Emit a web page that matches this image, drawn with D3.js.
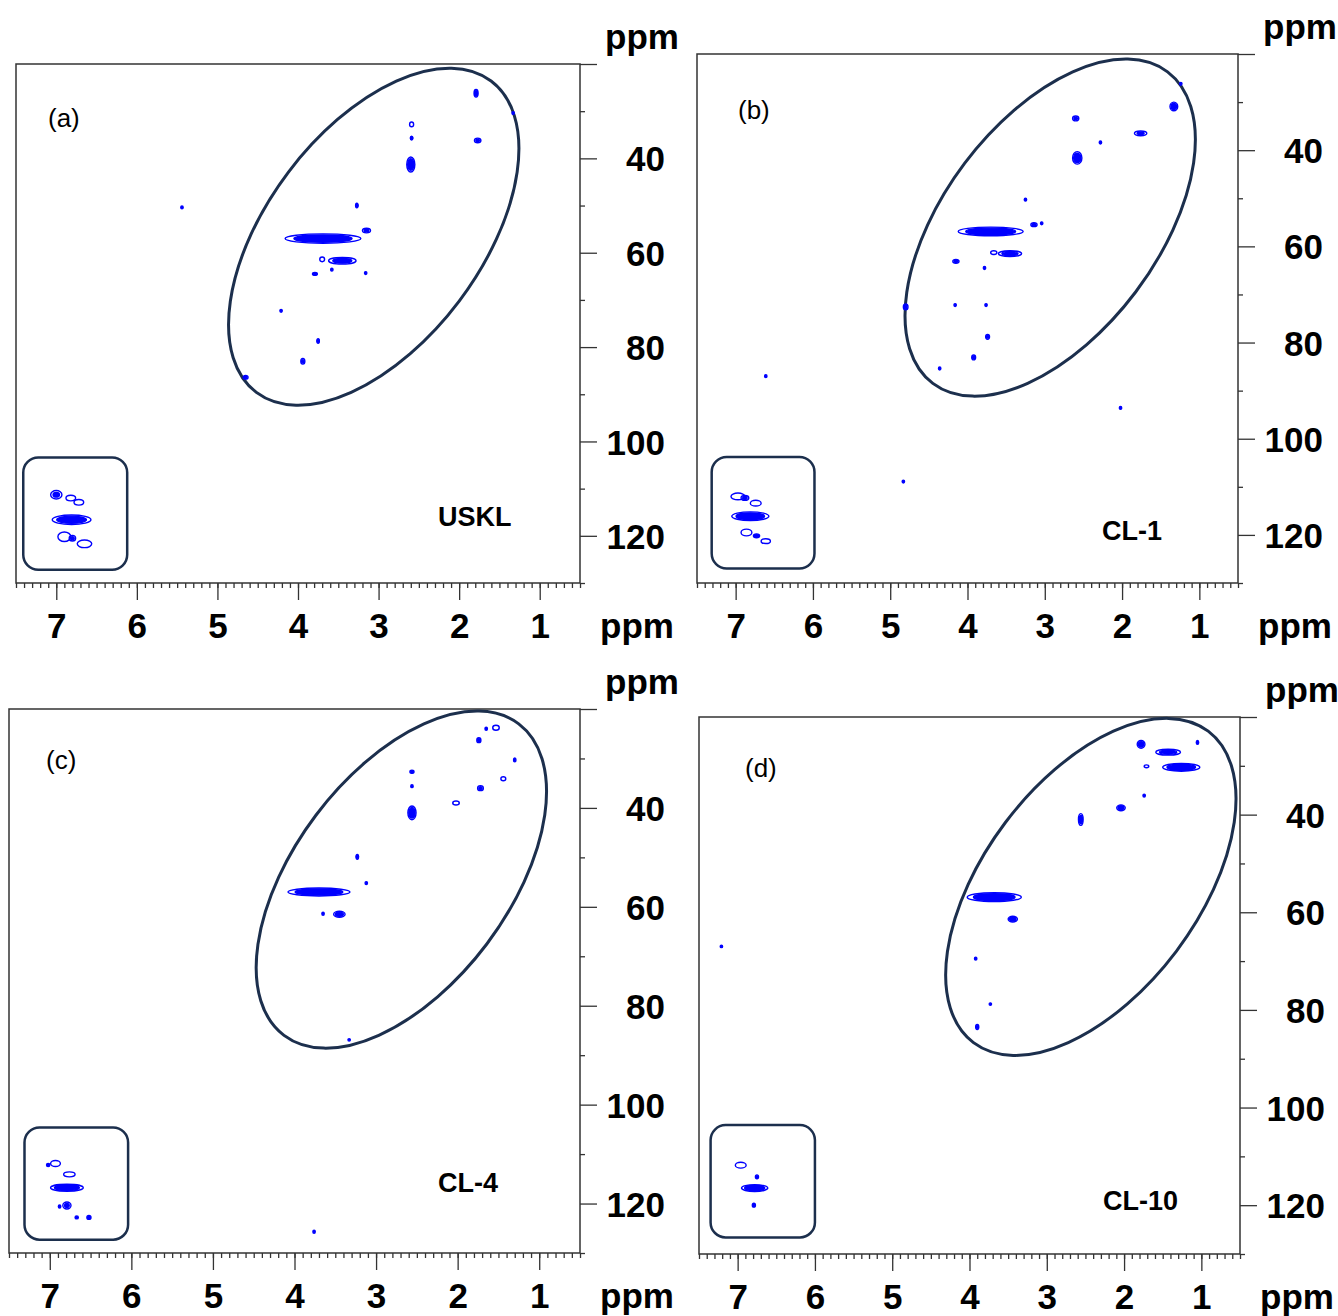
<!DOCTYPE html>
<html>
<head>
<meta charset="utf-8">
<script src="https://cdn.jsdelivr.net/npm/d3@7/dist/d3.min.js"></script>
<style>
  body { margin: 0; background: #fff; }
  text { font-family: "Liberation Sans", Arial, sans-serif; }
</style>
</head>
<body>
<div id="chart"></div>
<script>
"use strict";

// HSQC spectra, 4 samples

const panelLetters = ["(a)", "(b)", "(c)", "(d)"];
const sampleNames = ["USKL", "CL-1", "CL-4", "CL-10"];
const hTicks = [7, 6, 5, 4, 3, 2, 1];
const cTicks = [20, 40, 60, 80, 100, 120];
const cMinorTicks = [30, 50, 70, 90, 110, 130];
const hDomain = [7.5, 0.5];
const cDomain = [20, 130];

// peaks: [1H ppm, 13C ppm, half width 1H, half width 13C, contour levels (0 = open ring)]
const peaksA = [
  [3.69, 57.0, 0.47, 1.0, 4], [3.45, 61.7, 0.17, 0.7, 3], [3.70, 61.4, 0.03, 0.5, 0],
  [3.15, 55.3, 0.05, 0.5, 2], [3.27, 50.0, 0.012, 0.5, 2], [3.79, 64.5, 0.03, 0.3, 1],
  [3.58, 63.6, 0.012, 0.3, 1], [3.16, 64.3, 0.012, 0.3, 1], [4.21, 72.3, 0.015, 0.3, 1],
  [3.75, 78.7, 0.015, 0.5, 2], [3.94, 83.0, 0.025, 0.6, 2], [4.65, 86.4, 0.03, 0.4, 2],
  [5.44, 50.4, 0.015, 0.3, 1], [1.79, 26.2, 0.025, 0.8, 3], [2.59, 32.8, 0.025, 0.5, 0],
  [2.59, 35.7, 0.012, 0.4, 2], [2.60, 41.3, 0.05, 1.6, 4], [1.77, 36.2, 0.04, 0.5, 2],
  [1.33, 30.4, 0.01, 0.3, 1],
  [7.00, 111.3, 0.07, 0.9, 2], [6.82, 112.0, 0.06, 0.6, 0], [6.72, 112.9, 0.06, 0.6, 0],
  [6.81, 116.6, 0.24, 1.0, 4], [6.90, 120.2, 0.08, 1.0, 0], [6.65, 121.7, 0.09, 0.8, 0],
  [6.80, 120.5, 0.04, 0.6, 2]
];
const peaksB = [
  [1.33, 30.9, 0.05, 0.9, 3], [2.60, 33.4, 0.04, 0.5, 2], [1.76, 36.5, 0.08, 0.5, 2],
  [2.28, 38.4, 0.015, 0.3, 1], [2.58, 41.6, 0.06, 1.3, 4], [3.25, 50.3, 0.015, 0.3, 1],
  [3.70, 56.9, 0.42, 0.9, 4], [3.14, 55.5, 0.04, 0.4, 2], [3.04, 55.2, 0.01, 0.3, 1],
  [3.45, 61.5, 0.15, 0.6, 3], [3.66, 61.3, 0.04, 0.4, 0], [4.15, 63.1, 0.04, 0.4, 2],
  [3.78, 64.5, 0.012, 0.3, 1], [4.80, 72.6, 0.03, 0.6, 2], [4.16, 72.2, 0.01, 0.3, 1],
  [3.76, 72.2, 0.01, 0.3, 1], [3.74, 78.8, 0.025, 0.5, 2], [3.92, 83.1, 0.025, 0.5, 2],
  [4.36, 85.4, 0.012, 0.3, 1], [1.24, 26.2, 0.01, 0.3, 1], [6.61, 87.0, 0.012, 0.3, 1],
  [2.02, 93.6, 0.012, 0.3, 1], [4.83, 108.9, 0.012, 0.3, 1],
  [6.97, 112.0, 0.09, 0.7, 0], [6.88, 112.3, 0.05, 0.5, 2], [6.74, 113.4, 0.07, 0.6, 0],
  [6.81, 116.1, 0.24, 0.9, 4], [6.86, 119.5, 0.07, 0.7, 0], [6.73, 120.2, 0.04, 0.4, 1],
  [6.61, 121.3, 0.06, 0.5, 0]
];
const peaksC = [
  [1.53, 23.8, 0.04, 0.5, 0], [1.65, 24.0, 0.015, 0.3, 1], [1.74, 26.3, 0.025, 0.5, 2],
  [1.30, 30.3, 0.015, 0.4, 1], [2.56, 32.7, 0.025, 0.3, 2], [2.56, 35.6, 0.012, 0.3, 1],
  [1.44, 34.1, 0.03, 0.4, 0], [1.72, 36.0, 0.035, 0.5, 2], [2.02, 39.0, 0.04, 0.4, 0],
  [2.56, 41.0, 0.05, 1.4, 4], [3.23, 49.9, 0.012, 0.5, 2], [3.12, 55.2, 0.012, 0.3, 1],
  [3.70, 57.0, 0.38, 0.8, 4], [3.45, 61.5, 0.07, 0.6, 3], [3.65, 61.4, 0.012, 0.3, 1],
  [3.33, 86.9, 0.01, 0.2, 1], [3.76, 125.7, 0.01, 0.3, 1],
  [6.93, 111.9, 0.06, 0.6, 0], [7.02, 112.2, 0.02, 0.3, 1], [6.76, 114.1, 0.07, 0.5, 0],
  [6.79, 116.8, 0.2, 0.7, 4], [6.79, 120.4, 0.05, 0.7, 2], [6.88, 120.6, 0.015, 0.3, 1],
  [6.67, 122.8, 0.02, 0.3, 1], [6.52, 122.8, 0.025, 0.4, 1]
];
const peaksD = [
  [1.78, 25.6, 0.05, 0.8, 3], [1.43, 27.2, 0.16, 0.6, 3], [1.05, 25.2, 0.015, 0.4, 1],
  [1.71, 30.1, 0.03, 0.3, 0], [1.26, 30.3, 0.24, 0.8, 4], [1.74, 36.1, 0.012, 0.3, 1],
  [2.04, 38.6, 0.055, 0.6, 3], [2.56, 41.0, 0.03, 1.2, 3], [3.68, 56.9, 0.35, 0.9, 4],
  [3.44, 61.4, 0.06, 0.6, 3], [3.92, 69.5, 0.012, 0.3, 1], [3.73, 78.8, 0.01, 0.2, 1],
  [3.90, 83.5, 0.02, 0.5, 2], [7.21, 67.0, 0.01, 0.2, 1],
  [6.96, 111.8, 0.07, 0.6, 0], [6.75, 114.2, 0.02, 0.4, 1], [6.78, 116.5, 0.17, 0.7, 4],
  [6.79, 120.0, 0.02, 0.4, 1]
];

// aliphatic region marked with an ellipse, aromatic region with a box
const ellipseCentres = [[3.06, 56.6], [2.93, 56.1], [2.69, 54.5], [2.43, 54.8]];
const insetBoxes = [
  [7.41, 6.12, 103.4, 127.2], [7.31, 5.98, 103.8, 127.0],
  [7.31, 6.04, 104.6, 127.3], [7.35, 6.00, 103.6, 126.6]
];

// layout of the four panels (px)
const panels = [
  {left: 16, right: 580, top: 64, bottom: 583, lx: 32, ly: 63, sx: 422, sy: 462},
  {left: 697, right: 1238, top: 54, bottom: 583, lx: 41, ly: 65, sx: 405, sy: 486},
  {left: 9, right: 580, top: 709, bottom: 1253, lx: 37, ly: 60, sx: 429, sy: 483},
  {left: 699, right: 1240, top: 717, bottom: 1254, lx: 46, ly: 60, sx: 404, sy: 493}
];
const allPeaks = [peaksA, peaksB, peaksC, peaksD];

const navy = "#1c2f4d";
const peakBlue = "#0000ff";
const axisGrey = "#333";

const svg = d3.select("#chart")
  .append("svg")
  .attr("width", 1338)
  .attr("height", 1316);

panels.forEach((p, i) => {
  let x = d3.scaleLinear().domain(hDomain).range([p.left, p.right]);
  let y = d3.scaleLinear().domain(cDomain).range([p.top, p.bottom]);
  let g = svg.append("g");

  // frame
  g.append("path")
    .attr("d", `M${p.left},${p.bottom}V${p.top}H${p.right}V${p.bottom}Z`)
    .attr("fill", "none")
    .attr("stroke", axisGrey)
    .attr("stroke-width", 1.5);

  // bottom axis: minor every 0.1 ppm, major every 1 ppm
  let hMinor = d3.range(75, 4, -1).map(v => v / 10);
  let xMinor = g.append("g")
    .attr("transform", `translate(0,${p.bottom})`)
    .call(d3.axisBottom(x).tickValues(hMinor).tickSize(5).tickSizeOuter(0).tickFormat(""));
  let xMajor = g.append("g")
    .attr("transform", `translate(0,${p.bottom})`)
    .call(d3.axisBottom(x).tickValues(hTicks).tickSize(17).tickSizeOuter(0).tickFormat(d3.format("d")));

  // right axis
  let yMinor = g.append("g")
    .attr("transform", `translate(${p.right},0)`)
    .call(d3.axisRight(y).tickValues(cMinorTicks).tickSize(5).tickSizeOuter(0).tickFormat(""));
  let yMajor = g.append("g")
    .attr("transform", `translate(${p.right},0)`)
    .call(d3.axisRight(y).tickValues(cTicks).tickSize(17).tickSizeOuter(0)
      .tickFormat(d => d === 20 ? "" : d));

  [xMinor, xMajor, yMinor, yMajor].forEach(a => {
    a.select(".domain").remove();
    a.selectAll("line").attr("stroke", axisGrey).attr("stroke-width", 1.3);
  });
  xMajor.selectAll("text")
    .attr("y", 55).attr("dy", 0)
    .attr("font-size", 35).attr("font-weight", "bold").attr("fill", "#000");
  yMajor.selectAll("text")
    .attr("x", 85).attr("dy", "0.36em")
    .attr("text-anchor", "end")
    .attr("font-size", 35).attr("font-weight", "bold").attr("fill", "#000");

  // unit labels
  g.append("text")
    .attr("x", p.right + 20).attr("y", p.bottom + 55)
    .attr("font-size", 35).attr("font-weight", "bold")
    .text("ppm");
  g.append("text")
    .attr("x", p.right + 25).attr("y", p.top - 15)
    .attr("font-size", 35).attr("font-weight", "bold")
    .text("ppm");

  // region markers
  let ec = ellipseCentres[i];
  g.append("ellipse")
    .attr("transform", `translate(${x(ec[0])},${y(ec[1])}) rotate(-53)`)
    .attr("rx", 195).attr("ry", 107)
    .attr("fill", "none")
    .attr("stroke", navy)
    .attr("stroke-width", 3);
  let b = insetBoxes[i];
  g.append("rect")
    .attr("x", x(b[0])).attr("y", y(b[2]))
    .attr("width", x(b[1]) - x(b[0]))
    .attr("height", y(b[3]) - y(b[2]))
    .attr("rx", 15)
    .attr("fill", "none")
    .attr("stroke", navy)
    .attr("stroke-width", 2.5);

  // contour peaks: outer ring open, inner levels filled
  let pxH = Math.abs(x(1) - x(0));
  let pxC = Math.abs(y(1) - y(0));
  allPeaks[i].forEach(pk => {
    let n = Math.max(1, pk[4]);
    for (let k = 0; k < n; k++) {
      let s = 1 - k / (n + 0.3);
      let filled = pk[4] === 1 || (k > 0 && k === n - 1) || (n >= 3 && k >= 1);
      g.append("ellipse")
        .attr("cx", x(pk[0]))
        .attr("cy", y(pk[1]))
        .attr("rx", Math.max(1.2, pk[2] * pxH * s))
        .attr("ry", Math.max(1.2, pk[3] * pxC * s))
        .attr("fill", filled ? peakBlue : "none")
        .attr("stroke", peakBlue)
        .attr("stroke-width", 1.4);
    }
  });

  // panel letter and sample name
  g.append("text")
    .attr("x", p.left + p.lx).attr("y", p.top + p.ly)
    .attr("font-size", 26)
    .text(panelLetters[i]);
  g.append("text")
    .attr("x", p.left + p.sx).attr("y", p.top + p.sy)
    .attr("font-size", 27).attr("font-weight", "bold")
    .text(sampleNames[i]);
});
</script>
</body>
</html>
